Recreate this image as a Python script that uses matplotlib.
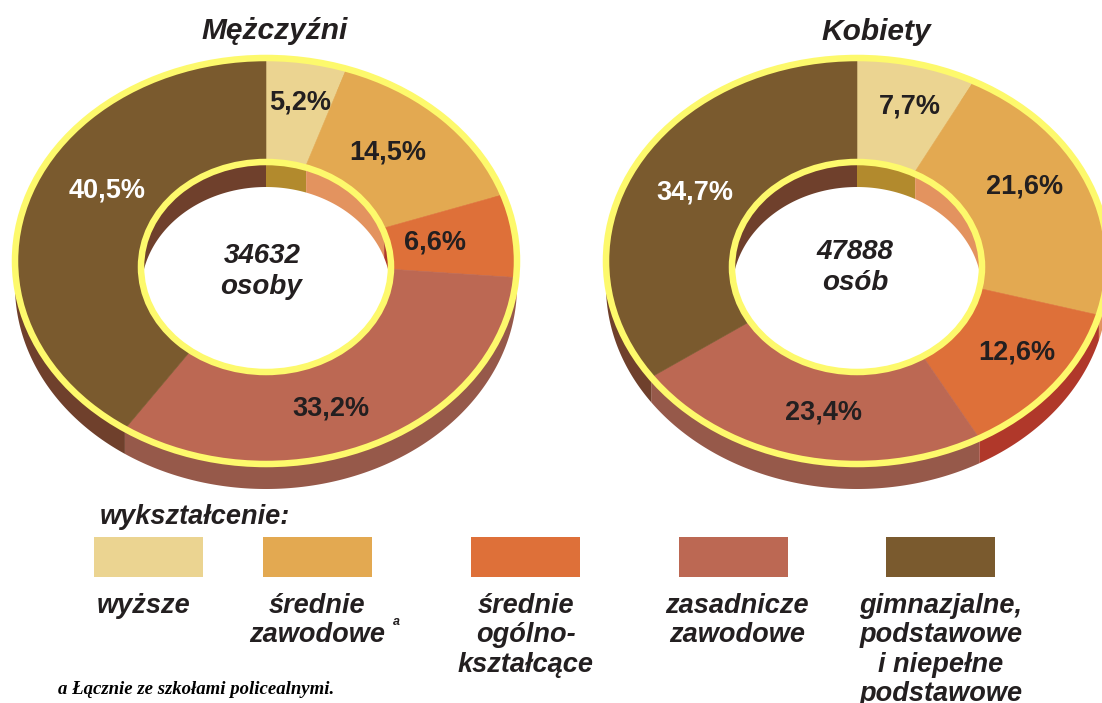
"""
Education structure of men and women: two tilted 3D-looking rings with a legend.
"""

import matplotlib
matplotlib.use("Agg")

import matplotlib.pyplot as plt
from matplotlib.patches import Ellipse, Polygon, Rectangle
import numpy as np

SANS = "Liberation Sans"
SERIF = "Liberation Serif"

# data
men_shares = [5.2, 14.5, 6.6, 33.2, 40.5]
women_shares = [7.7, 21.6, 12.6, 23.4, 34.7]
men_total = ["34632", "osoby"]
women_total = ["47888", "osób"]
chart_titles = ["Mężczyźni", "Kobiety"]
legend_title = "wykształcenie:"
legend_labels = [
    "wyższe",
    "średnie\nzawodowe",
    "średnie\nogólno-\nkształcące",
    "zasadnicze\nzawodowe",
    "gimnazjalne,\npodstawowe\ni niepełne\npodstawowe",
]
footnote = "a Łącznie ze szkołami policealnymi."

# colours
TOP_COLORS = ["#EBD491", "#E3A951", "#DE7039", "#BC6853", "#7A5A2E"]
SIDE_COLORS = ["#B28A2D", "#E3935F", "#B0382A", "#96594A", "#6F402C"]
RIM = "#FDF96C"
TEXT = "#231F20"

# layout, pixels
OUTER_RX, OUTER_RY = 251, 203
INNER_RX, INNER_RY = 125, 105
DEPTH = 25
CY = 261
INNER_CY = 267
RIM_WIDTH = 6.5

MEN_LABELS = [(300, 102), (388, 152), (435, 243), (331, 409), (107, 191)]
WOMEN_LABELS = [(910, 106), (1025, 186), (1017, 352), (824, 413), (695, 193)]
SWATCH_X = [94, 263, 471, 679, 886]
LEGEND_TEXT_X = [144, 317, 526, 737, 941]


def arc(cx, cy, rx, ry, start, stop):
    # angles are clockwise from 12 o'clock, in percent of the full circle
    t = np.radians(np.linspace(start, stop, 200) * 3.6)
    return np.column_stack([cx + rx * np.sin(t), cy - ry * np.cos(t)])


def draw_ring(ax, cx, shares):

    edges = np.concatenate([[0], np.cumsum(shares)])
    edges = edges / edges[-1] * 100

    # outer wall
    for start, stop, color in zip(edges[:-1], edges[1:], SIDE_COLORS):
        a = arc(cx, CY, OUTER_RX, OUTER_RY, start, stop)
        b = a + [0, DEPTH]
        ax.add_patch(Polygon(np.vstack([a, b[::-1]]), fc=color, ec="none", zorder=1))

    # top face, sectors run to the centre and the hole covers them
    for start, stop, color in zip(edges[:-1], edges[1:], TOP_COLORS):
        a = arc(cx, CY, OUTER_RX, OUTER_RY, start, stop)
        ax.add_patch(Polygon(np.vstack([a, [[cx, CY]]]), fc=color, ec=color, lw=0.4, zorder=2))

    # hole with inner wall
    hole = Ellipse((cx, INNER_CY), 2 * INNER_RX, 2 * INNER_RY, fc="white", ec="none", zorder=3)
    ax.add_patch(hole)
    for start, stop, color in zip(edges[:-1], edges[1:], SIDE_COLORS):
        a = arc(cx, INNER_CY, INNER_RX, INNER_RY, start, stop)
        b = a + [0, DEPTH]
        wall = Polygon(np.vstack([a, b[::-1]]), fc=color, ec="none", zorder=4)
        ax.add_patch(wall)
        wall.set_clip_path(hole)

    # yellow rims
    for cy, rx, ry in [(CY, OUTER_RX, OUTER_RY), (INNER_CY, INNER_RX, INNER_RY)]:
        ax.add_patch(
            Ellipse(
                (cx, cy),
                2 * rx,
                2 * ry,
                fc="none",
                ec=RIM,
                lw=RIM_WIDTH * 0.72,
                zorder=5,
            )
        )


def draw_labels(ax, shares, positions):

    for i, (value, (x, y)) in enumerate(zip(shares, positions)):
        ax.text(
            x,
            y,
            f"{value:.1f}%".replace(".", ","),
            family=SANS,
            weight="bold",
            size=19.5,
            color="white" if i == 4 else TEXT,
            ha="center",
            va="center",
            zorder=6,
        )


def main():

    fig = plt.figure(figsize=(11.02, 7.03), dpi=100)
    ax = fig.add_axes([0, 0, 1, 1])
    ax.set_xlim(0, 1102)
    ax.set_ylim(703, 0)
    ax.axis("off")

    draw_ring(ax, 266, men_shares)
    draw_ring(ax, 857, women_shares)
    draw_labels(ax, men_shares, MEN_LABELS)
    draw_labels(ax, women_shares, WOMEN_LABELS)

    text_style = dict(
        family=SANS,
        weight="bold",
        style="italic",
        color=TEXT,
        zorder=6,
    )

    ax.text(275, 31, chart_titles[0], size=21.5, ha="center", va="center", **text_style)
    ax.text(876, 32, chart_titles[1], size=21.5, ha="center", va="center", **text_style)

    ax.text(262, 256, men_total[0], size=20, ha="center", va="center", **text_style)
    ax.text(261, 287, men_total[1], size=20, ha="center", va="center", **text_style)
    ax.text(855, 252, women_total[0], size=20, ha="center", va="center", **text_style)
    ax.text(855, 283, women_total[1], size=20, ha="center", va="center", **text_style)

    ax.text(100, 517, legend_title, size=19.5, ha="left", va="center", **text_style)

    for x, color in zip(SWATCH_X, TOP_COLORS):
        ax.add_patch(Rectangle((x, 537), 109, 40, fc=color, ec="none"))

    for x, label in zip(LEGEND_TEXT_X, legend_labels):
        ax.text(
            x,
            593,
            label,
            size=19.5,
            ha="center",
            va="top",
            linespacing=1.17,
            **text_style,
        )

    ax.text(396, 622, "a", size=9, ha="center", va="center", **text_style)

    ax.text(
        58,
        689,
        footnote,
        family=SERIF,
        weight="bold",
        style="italic",
        size=13.5,
        color="black",
        ha="left",
        va="center",
    )

    fig.savefig("out.png", dpi=100)
    plt.close(fig)


if __name__ == "__main__":

    main()
